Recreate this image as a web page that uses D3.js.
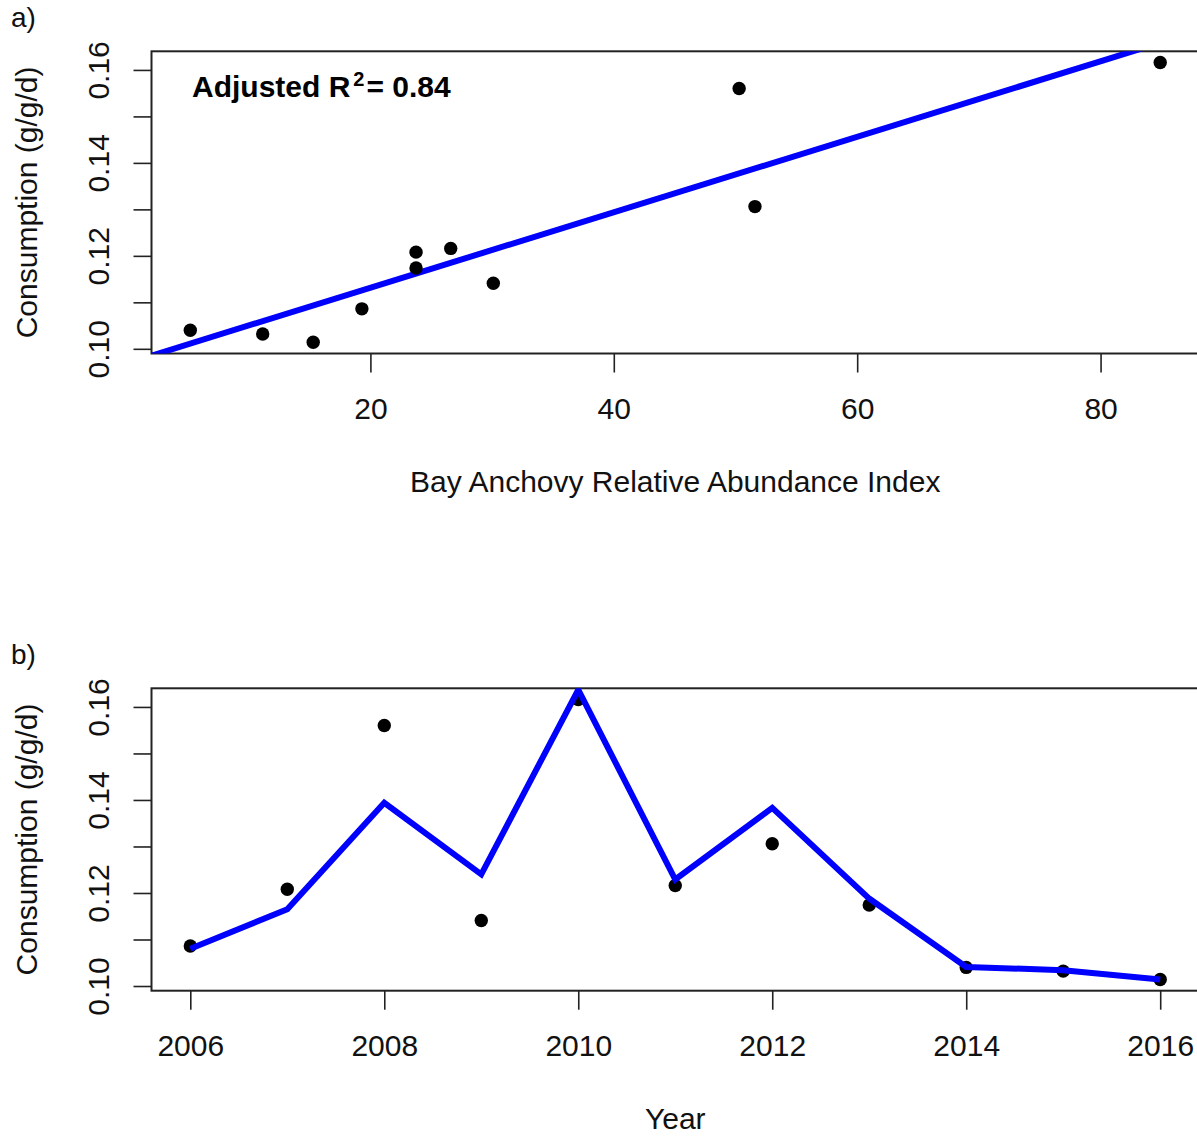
<!DOCTYPE html>
<html>
<head>
<meta charset="utf-8">
<script src="https://cdn.jsdelivr.net/npm/d3@7"></script>
<style>
    body { margin: 0; background: #fff; }
    svg { display: block; font-family: "Liberation Sans", Arial, sans-serif; }
    .tick line { stroke: #222; stroke-width: 1.6; }
    .tick text { fill: #111; font-size: 30px; }
</style>
</head>
<body>
<svg id="chart"></svg>
<script>
/*
 Two panel figure: consumption vs anchovy index, and consumption by year
 */
var years = [2006, 2007, 2008, 2009, 2010, 2011, 2012, 2013, 2014, 2015, 2016];
var abundance = [19.3, 23.75, 50.3, 30.1, 84.9, 26.6, 51.6, 23.75, 5.2, 11.15, 15.3];
var consumption = [0.1086, 0.1208, 0.1560, 0.1141, 0.1616, 0.1216, 0.1306, 0.1174, 0.1040, 0.1032, 0.1014];
// model predictions drawn as the blue line in panel b
var predicted = [0.1080, 0.1165, 0.1394, 0.1240, 0.1637, 0.1229, 0.1383, 0.1188, 0.1041, 0.1034, 0.1014];

// fitted line for panel a
var fitIntercept = 0.0969;
var fitSlope = 0.000812;
var fitLabel = "0.84";

var xTicksA = [20, 40, 60, 80];
var xTicksB = [2006, 2008, 2010, 2012, 2014, 2016];
var yTicks = [0.10, 0.11, 0.12, 0.13, 0.14, 0.15, 0.16];
var yLabels = [0.10, 0.12, 0.14, 0.16];

var width = 1197, height = 1137;
var left = 151.5, right = 1199;

var svg = d3.select("#chart")
    .attr("width", width)
    .attr("height", height);

// R style axis range: data range padded by 4% each side
function padded(values) {
    var ext = d3.extent(values);
    var pad = (ext[1] - ext[0]) * 0.04;
    return [ext[0] - pad, ext[1] + pad];
}

function drawPanel(top, bottom, x, xTicks, xTitle, tag, id) {
    var y = d3.scaleLinear()
        .domain(padded(consumption))
        .range([bottom, top]);

    svg.append("clipPath")
        .attr("id", id)
        .append("rect")
        .attr("x", left)
        .attr("y", top)
        .attr("width", right - left)
        .attr("height", bottom - top);

    var xAxis = d3.axisBottom(x)
        .tickValues(xTicks)
        .tickSize(19)
        .tickPadding(25)
        .tickFormat(d3.format("d"));

    var gx = svg.append("g")
        .attr("transform", "translate(0," + bottom + ")")
        .call(xAxis);
    gx.select(".domain").remove();

    var yAxis = d3.axisLeft(y)
        .tickValues(yTicks)
        .tickSize(18)
        .tickFormat(function (d) {
            return yLabels.some(function (v) { return Math.abs(v - d) < 1e-9; }) ? d3.format(".2f")(d) : "";
        });

    var gy = svg.append("g")
        .attr("transform", "translate(" + left + ",0)")
        .call(yAxis);
    gy.select(".domain").remove();
    gy.selectAll("text")
        .attr("transform", "rotate(-90)")
        .attr("text-anchor", "middle")
        .attr("x", 0)
        .attr("y", -43)
        .attr("dy", 0);

    // axis titles
    svg.append("text")
        .attr("x", (left + right) / 2)
        .attr("y", bottom + 138)
        .attr("text-anchor", "middle")
        .attr("font-size", 30)
        .attr("fill", "#111")
        .text(xTitle);

    svg.append("text")
        .attr("transform", "translate(37," + (top + bottom) / 2 + ") rotate(-90)")
        .attr("text-anchor", "middle")
        .attr("font-size", 30)
        .attr("fill", "#111")
        .text("Consumption (g/g/d)");

    svg.append("text")
        .attr("x", 11)
        .attr("y", top - 24)
        .attr("font-size", 28)
        .attr("fill", "#111")
        .text(tag);

    svg.append("rect")
        .attr("x", left)
        .attr("y", top)
        .attr("width", right - left)
        .attr("height", bottom - top)
        .attr("fill", "none")
        .attr("stroke", "#222")
        .attr("stroke-width", 2);

    return y;
}

// panel a
var xA = d3.scaleLinear()
    .domain(padded(abundance))
    .range([left, right]);

var yA = drawPanel(51.3, 353.5, xA, xTicksA, "Bay Anchovy Relative Abundance Index", "a)", "clipA");

var fitLine = d3.line()
    .x(function (d) { return xA(d); })
    .y(function (d) { return yA(fitIntercept + fitSlope * d); });

svg.append("path")
    .datum(xA.domain())
    .attr("clip-path", "url(#clipA)")
    .attr("d", fitLine)
    .attr("fill", "none")
    .attr("stroke", "#0000ff")
    .attr("stroke-width", 6);

svg.append("g")
    .selectAll("circle")
    .data(abundance)
    .enter()
    .append("circle")
    .attr("cx", function (d) { return xA(d); })
    .attr("cy", function (d, i) { return yA(consumption[i]); })
    .attr("r", 6.7)
    .attr("fill", "#000");

var label = svg.append("text")
    .attr("x", 192)
    .attr("y", 96.7)
    .attr("font-size", 30)
    .attr("font-weight", "bold")
    .attr("fill", "#000");
label.append("tspan").text("Adjusted R");
label.append("tspan").attr("font-size", 20).attr("dy", -11).attr("dx", 3).text("2");
label.append("tspan").attr("dy", 11).attr("dx", 2).text("= " + fitLabel);

// panel b
var xB = d3.scaleLinear()
    .domain(padded(years))
    .range([left, right]);

var yB = drawPanel(688.3, 990.7, xB, xTicksB, "Year", "b)", "clipB");

var predLine = d3.line()
    .x(function (d, i) { return xB(years[i]); })
    .y(function (d) { return yB(d); });

svg.append("g")
    .selectAll("circle")
    .data(consumption)
    .enter()
    .append("circle")
    .attr("cx", function (d, i) { return xB(years[i]); })
    .attr("cy", function (d) { return yB(d); })
    .attr("r", 6.7)
    .attr("fill", "#000");

svg.append("path")
    .datum(predicted)
    .attr("clip-path", "url(#clipB)")
    .attr("d", predLine)
    .attr("fill", "none")
    .attr("stroke", "#0000ff")
    .attr("stroke-width", 6)
    .attr("stroke-linejoin", "miter");
</script>
</body>
</html>
